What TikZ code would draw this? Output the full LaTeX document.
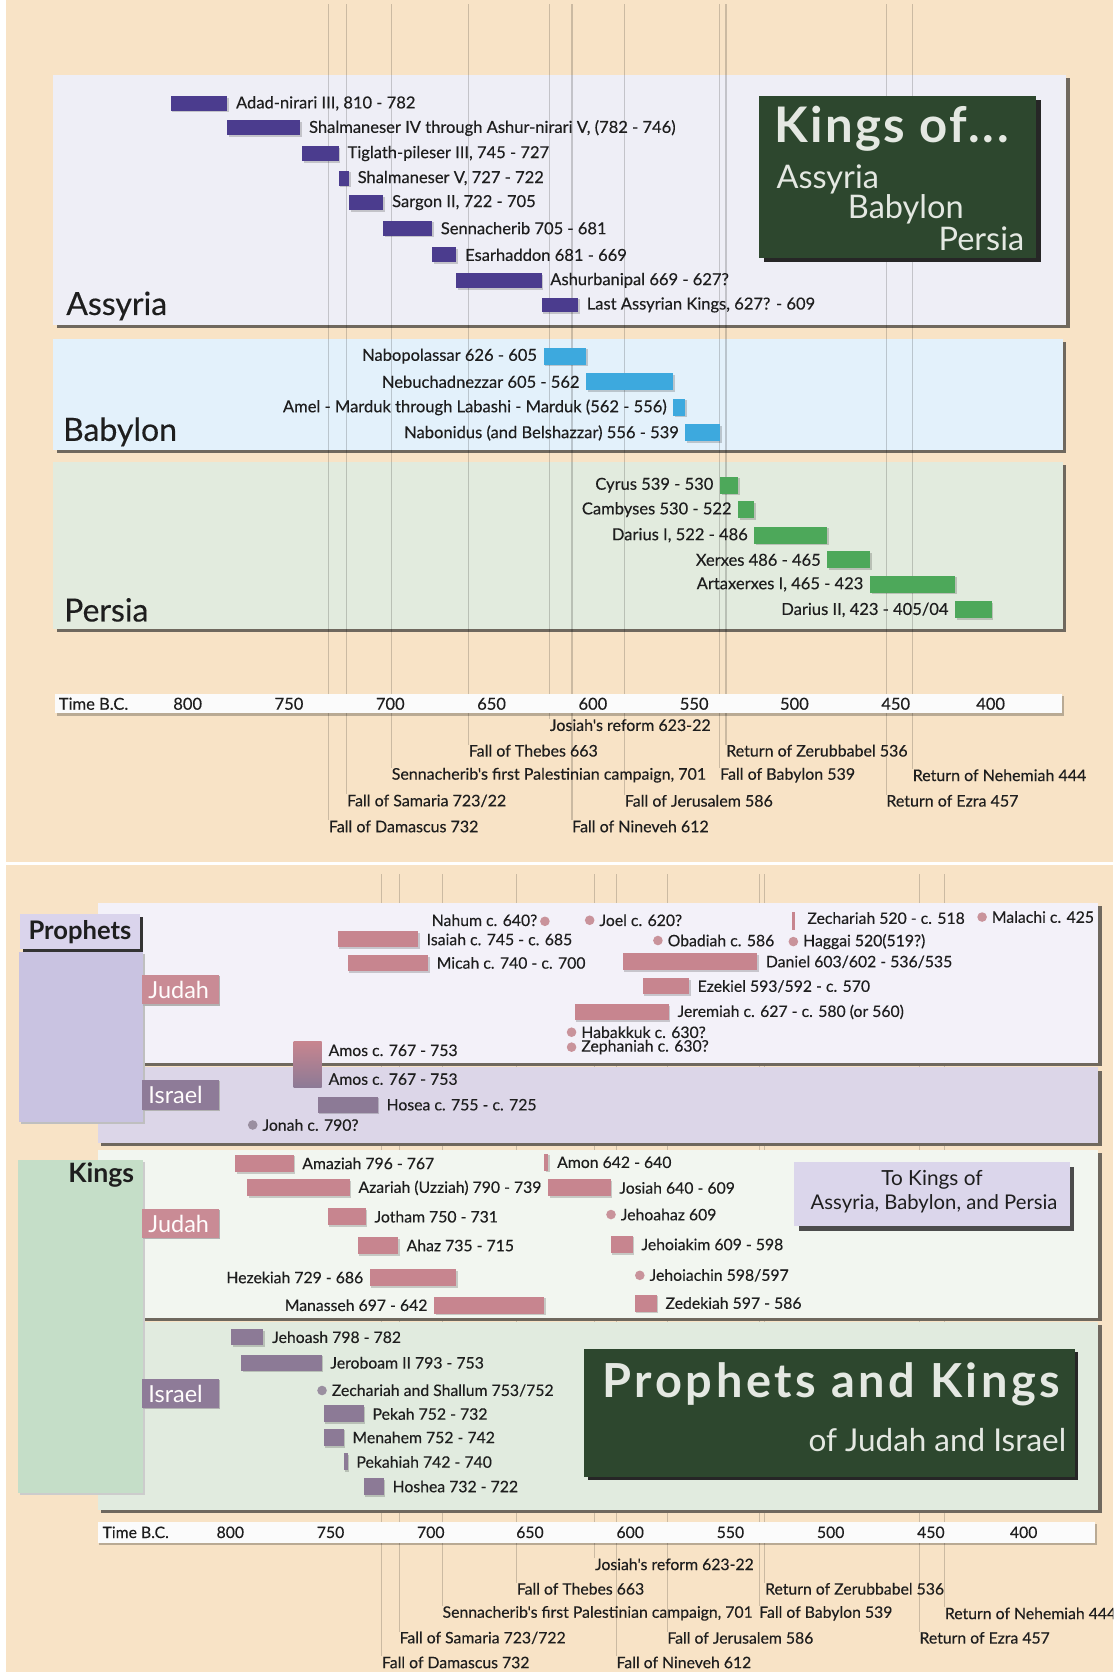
\documentclass[tikz,border=0pt]{standalone}
\usepackage{fontspec}
\setmainfont{Lato}
\newfontfamily\labfont{Lato}[FakeBold=0.3]
\newfontfamily\trackfont{Lato}[LetterSpace=5]
\newfontfamily\trackfontb{Lato}[LetterSpace=7.6]
\pgfdeclarelayer{L0}
\pgfdeclarelayer{L1}
\pgfsetlayers{L0,L1,main}
\pgfmathdeclarefunction{topx}{1}{\pgfmathparse{1699.8-1.901*#1}}
\pgfmathdeclarefunction{botx}{1}{\pgfmathparse{1718.8-1.882*#1}}
\pgfmathdeclarefunction{evx}{1}{\pgfmathparse{1699.8-1.833*#1}}
\definecolor{beige}{HTML}{F8E3C6}
\definecolor{assyfill}{HTML}{EEEEF6}
\definecolor{babfill}{HTML}{E3F1FB}
\definecolor{perfill}{HTML}{E2EBDE}
\definecolor{boxshadow}{HTML}{6F685E}
\definecolor{purp}{HTML}{4B3C8E}
\definecolor{blu}{HTML}{3DA9DE}
\definecolor{grn}{HTML}{4DA85A}
\definecolor{jpink}{HTML}{C7858F}
\definecolor{jdot}{HTML}{C9939B}
\definecolor{ipurp}{HTML}{8C7A96}
\definecolor{idot}{HTML}{9A8FA0}
\definecolor{tagp}{HTML}{C98B95}
\definecolor{tagi}{HTML}{8E7B98}
\definecolor{dgreen}{HTML}{2D472E}
\definecolor{ttl}{HTML}{E4E8E2}
\definecolor{pjud}{HTML}{F3F1F9}
\definecolor{pisr}{HTML}{DCD6E8}
\definecolor{kjud}{HTML}{F2F6F0}
\definecolor{kisr}{HTML}{E1EBDF}
\definecolor{ptab}{HTML}{C9C3E1}
\definecolor{phead}{HTML}{DAD4EC}
\definecolor{ktab}{HTML}{C5DEC8}
\definecolor{tokings}{HTML}{DBD6EB}
\definecolor{txt}{HTML}{1E1E1E}
\definecolor{axisw}{HTML}{FBFBFB}
\tikzset{
  lab/.style={font=\labfont\fontsize{15.5}{17}\selectfont, text=txt, inner sep=0pt},
  tev/.style={font=\labfont\fontsize{15}{17}\selectfont, text=txt, inner sep=0pt},
  blab/.style={font=\labfont\fontsize{14.8}{16}\selectfont, text=txt, inner sep=0pt},
  rl/.style={lab},
  big/.style={font=\labfont\fontsize{30}{32}\selectfont, text=txt, inner sep=0pt},
  tagt/.style={font=\fontsize{22}{24}\selectfont, text=white!95!pink, inner sep=0pt},
  ttltxt/.style={text=ttl, inner sep=0pt},
  evline/.style={draw=black, opacity=.18, line width=1pt}
}
\newcommand\shbox[7]{\fill[#2] ({#3+#7},{#4+#7}) rectangle ({#5+#7},{#6+#7});
  \fill[#1] (#3,#4) rectangle (#5,#6);}
\newcommand\hbarx[5]{\fill[black,opacity=.18] ({#2+1.5},{#4-#5+1.5}) rectangle ({#3+1.5},{#4+#5+1.5});
  \fill[#1] ({#2},{#4-#5}) rectangle ({#3},{#4+#5});}
\newcommand\rowR[7]{\hbarx{#2}{#5}{#6}{#3}{#4}\node[rl,anchor=west] (#1) at ({#6+8},#3) {#7};}
\newcommand\rowL[7]{\hbarx{#2}{#5}{#6}{#3}{#4}\node[rl,anchor=east] (#1) at ({#5-6},#3) {#7};}
\newcommand\dotR[5]{\fill[#2] (#3,#4) circle[radius=4.5pt];
  \node[rl,anchor=west] (#1) at ({#3+9},#4) {#5};}
\begin{document}
\begin{tikzpicture}[x=1pt,y=-1pt]
\useasboundingbox (0,0) rectangle (1044,1568);
\clip (0,0) rectangle (1044,1568);
% ---------- backgrounds, top boxes
\begin{pgfonlayer}{L0}
\fill[white] (0,0) rectangle (1044,1568);
\fill[beige] (6,0) rectangle (1044,808);
\fill[beige] (6,811) rectangle (1044,1568);
\shbox{assyfill}{boxshadow}{50}{70}{1000}{305}{3}
\shbox{babfill}{boxshadow}{50}{318}{997}{422}{3}
\shbox{perfill}{boxshadow}{50}{433}{997}{590}{3}
\end{pgfonlayer}
\coordinate (ttop) at (0,4);
\coordinate (btop) at (0,820);
% ---------- top axis
\fill[black,opacity=.25] (53,653) rectangle (998,671);
\fill[axisw] (52,651) rectangle (996,669);
\node[lab,anchor=west] (ttime) at (55,660) {Time B.C.};
\foreach \v/\p in {800/176,750/271,700/366,650/461,600/556,550/651,500/745,450/840,400/929}
  \node[lab] (tk\v) at (\p,660) {\v};
% ---------- top events
\node[tev,anchor=west] (te1) at ({topx(623)},680) {Josiah's reform 623-22};
\node[tev,anchor=west] (te2) at ({topx(663)},704) {Fall of Thebes 663};
\node[tev,anchor=west] (te3) at ({topx(536)},704) {Return of Zerubbabel 536};
\node[tev,anchor=west] (te4) at ({topx(701)},727) {Sennacherib's first Palestinian campaign, 701};
\node[tev,anchor=west] (te5) at ({topx(539)},727) {Fall of Babylon 539};
\node[tev,anchor=west] (te6) at ({topx(444)},727) {Return of Nehemiah 444};
\node[tev,anchor=west] (te7) at ({topx(723)},751) {Fall of Samaria 723/22};
\node[tev,anchor=west] (te8) at ({topx(586)},751) {Fall of Jerusalem 586};
\node[tev,anchor=west] (te9) at ({topx(457)},751) {Return of Ezra 457};
\node[tev,anchor=west] (te10) at ({topx(732)},775) {Fall of Damascus 732};
\node[tev,anchor=west] (te11) at ({topx(612)},775) {Fall of Nineveh 612};
\begin{pgfonlayer}{L1}
\foreach \i in {1,...,11} \draw[evline] (te\i.north west) -- (te\i.north west |- ttop);
\end{pgfonlayer}
% ---------- title box
\shbox{dgreen}{black!85}{712}{90}{972}{242}{4}
\node[ttltxt,anchor=west,font=\trackfont\bfseries\fontsize{46}{48}\selectfont] (kt) at (726,121) {Kings of...};
\node[ttltxt,anchor=west,font=\fontsize{30.5}{32}\selectfont] (kt1) at (728,168) {Assyria};
\node[ttltxt,anchor=west,font=\fontsize{30.5}{32}\selectfont] (kt2) at (795,196) {Babylon};
\node[ttltxt,anchor=west,font=\fontsize{30.5}{32}\selectfont] (kt3) at (880,224) {Persia};
\node[big,anchor=west] (lassy) at (62,287) {Assyria};
\node[big,anchor=west] (lbab) at (59,405) {Babylon};
\node[big,anchor=west] (lper) at (60,572) {Persia};
% ---------- Assyria
\rowR{a1}{purp}{97}{7}{topx(810)}{topx(782)}{Adad-nirari III, 810 - 782}
\rowR{a2}{purp}{120}{7}{topx(782)}{topx(746)}{Shalmaneser IV through Ashur-nirari V, (782 - 746)}
\rowR{a3}{purp}{144}{7}{topx(745)}{topx(727)}{Tiglath-pileser III, 745 - 727}
\rowR{a4}{purp}{167}{7}{topx(727)}{topx(722)}{Shalmaneser V, 727 - 722}
\rowR{a5}{purp}{190}{7}{topx(722)}{topx(705)}{Sargon II, 722 - 705}
\rowR{a6}{purp}{214}{7}{topx(705)}{topx(681)}{Sennacherib 705 - 681}
\rowR{a7}{purp}{239}{7}{topx(681)}{topx(669)}{Esarhaddon 681 - 669}
\rowR{a8}{purp}{263}{7}{topx(669)}{topx(627)}{Ashurbanipal 669 - 627?}
\rowR{a9}{purp}{286}{7}{topx(627)}{topx(609)}{Last Assyrian Kings, 627? - 609}
% ---------- Babylon
\rowL{b1}{blu}{334}{8}{topx(626)}{topx(605)}{Nabopolassar 626 - 605}
\rowL{b2}{blu}{358}{8}{topx(605)}{topx(562)}{Nebuchadnezzar 605 - 562}
\rowL{b3}{blu}{382}{8}{topx(562)}{topx(556)}{Amel - Marduk through Labashi - Marduk (562 - 556)}
\rowL{b4}{blu}{406}{8}{topx(556)}{topx(539)}{Nabonidus (and Belshazzar) 556 - 539}
% ---------- Persia
\rowL{p1}{grn}{455}{8}{topx(539)}{topx(530)}{Cyrus 539 - 530}
\rowL{p2}{grn}{478}{8}{topx(530)}{topx(522)}{Cambyses 530 - 522}
\rowL{p3}{grn}{502}{8}{topx(522)}{topx(486)}{Darius I, 522 - 486}
\rowL{p4}{grn}{525}{8}{topx(486)}{topx(465)}{Xerxes 486 - 465}
\rowL{p5}{grn}{548}{8}{topx(465)}{topx(423)}{Artaxerxes I, 465 - 423}
\rowL{p6}{grn}{572}{8}{topx(423)}{topx(405)}{Darius II, 423 - 405/04}
% ========== BOTTOM PANEL
\tikzset{rl/.style={blab}}
\node[blab,anchor=west] (be1) at ({evx(623)},1467) {Josiah's reform 623-22};
\node[blab,anchor=west] (be2) at ({evx(663)},1490) {Fall of Thebes 663};
\node[blab,anchor=west] (be3) at ({evx(536)},1490) {Return of Zerubbabel 536};
\node[blab,anchor=west] (be4) at ({evx(701)},1513) {Sennacherib's first Palestinian campaign, 701};
\node[blab,anchor=west] (be5) at ({evx(539)},1513) {Fall of Babylon 539};
\node[blab,anchor=west] (be6) at ({evx(444)},1513) {Return of Nehemiah 444};
\node[blab,anchor=west] (be7) at ({evx(723)},1536) {Fall of Samaria 723/722};
\node[blab,anchor=west] (be8) at ({evx(586)},1536) {Fall of Jerusalem 586};
\node[blab,anchor=west] (be9) at ({evx(457)},1536) {Return of Ezra 457};
\node[blab,anchor=west] (be10) at ({evx(732)},1559) {Fall of Damascus 732};
\node[blab,anchor=west] (be11) at ({evx(612)},1559) {Fall of Nineveh 612};
\begin{pgfonlayer}{L0}
\foreach \i in {1,...,11} \draw[evline] (be\i.north west) -- (be\i.north west |- btop);
\shbox{pjud}{boxshadow}{92}{847}{1030}{997}{3}
\shbox{pisr}{boxshadow}{92}{1001}{1030}{1072}{3}
\shbox{kjud}{boxshadow}{92}{1078}{1030}{1236}{3}
\shbox{kisr}{boxshadow}{92}{1240}{1030}{1416}{3}
\shbox{ptab}{black!25}{18}{893}{134}{1052}{2}
\shbox{phead}{black!80}{19}{857}{131}{890}{3}
\shbox{ktab}{black!20}{17}{1088}{134}{1400}{2}
\shbox{tagp}{black!30}{133}{914}{205}{942}{1}
\shbox{tagi}{black!30}{133}{1013}{205}{1041}{1}
\shbox{tagp}{black!30}{133}{1134}{205}{1161}{1}
\shbox{tagi}{black!30}{133}{1293}{205}{1320}{1}
\end{pgfonlayer}
\node[blab,font=\bfseries\fontsize{24}{26}\selectfont] (phd) at (75,874) {Prophets};
\node[blab,font=\bfseries\fontsize{25}{27}\selectfont,anchor=east] (khd) at (126,1102) {Kings};
\node[tagt,anchor=west] (tpj) at (139,928) {Judah};
\node[tagt,anchor=west] (tpi) at (139,1027) {Israel};
\node[tagt,anchor=west] (tkj) at (139,1148) {Judah};
\node[tagt,anchor=west] (tki) at (139,1307) {Israel};
% bottom axis
\fill[black,opacity=.25] (93,1429) rectangle (1029,1449);
\fill[axisw] (92,1427) rectangle (1027,1447);
\node[blab,anchor=west] (btime) at (96,1437) {Time B.C.};
\foreach \v/\p in {800/216,750/310,700/404,650/497,600/591,550/685,500/779,450/873,400/960}
  \node[blab] (bk\v) at (\p,1437) {\v};
% boxes with text
\shbox{tokings}{black!70}{745}{1090}{1003}{1150}{4}
\node[blab,font=\fontsize{19.5}{21}\selectfont] (tk1) at (874,1106) {To Kings of};
\node[blab,font=\fontsize{19}{21}\selectfont] (tk2) at (876,1129) {Assyria, Babylon, and Persia};
\shbox{dgreen}{black!85}{548}{1265}{1008}{1385}{3}
\node[ttltxt,anchor=west,font=\trackfontb\bfseries\fontsize{44}{46}\selectfont] (pk1) at (565,1298) {Prophets and Kings};
\node[ttltxt,anchor=east,font=\fontsize{29.5}{31}\selectfont] (pk2) at (1000,1350) {of Judah and Israel};
% ---------- prophets
\fill[jdot] (511,864) circle[radius=4.5pt];
\node[blab,anchor=east] (nah) at (504,863) {Nahum c. 640?};
\dotR{joel}{jdot}{553}{863}{Joel c. 620?}
\fill[jpink] (743,855) rectangle (746,872);
\node[blab,anchor=west] (zec) at (757,861) {Zechariah 520 - c. 518};
\dotR{mal}{jdot}{921}{860}{Malachi c. 425}
\rowR{isa}{jpink}{881}{7.5}{botx(745)}{392}{Isaiah c. 745 - c. 685}
\rowR{mic}{jpink}{903}{7.5}{botx(740)}{botx(700)}{Micah c. 740 - c. 700}
\dotR{oba}{jdot}{617}{882}{Obadiah c. 586}
\dotR{hag}{jdot}{744}{883}{Haggai 520(519?)}
\rowR{dan}{jpink}{902}{8}{botx(603)}{botx(536)}{Daniel 603/602 - 536/535}
\rowR{eze}{jpink}{925}{7.5}{botx(593)}{botx(570)}{Ezekiel 593/592 - c. 570}
\rowR{jer}{jpink}{949}{7.5}{botx(627)}{botx(580)}{Jeremiah c. 627 - c. 580 (or 560)}
\dotR{hab}{jdot}{536}{968}{Habakkuk c. 630?}
\dotR{zep}{jdot}{536}{982}{Zephaniah c. 630?}
\shade[top color=jpink, bottom color=ipurp] ({botx(767)},977) rectangle ({botx(753)},1020);
\node[blab,anchor=west] (amj) at (308,985) {Amos c. 767 - 753};
\node[blab,anchor=west] (ami) at (308,1012) {Amos c. 767 - 753};
\rowR{hos}{ipurp}{1036}{7.5}{botx(755)}{botx(725)}{Hosea c. 755 - c. 725}
\dotR{jon}{idot}{237}{1055}{Jonah c. 790?}
% ---------- kings of Judah
\rowR{ama}{jpink}{1091}{8}{botx(796)}{botx(767)}{Amaziah 796 - 767}
\rowR{aza}{jpink}{1114}{8}{botx(790)}{botx(739)}{Azariah (Uzziah) 790 - 739}
\rowR{jot}{jpink}{1141}{8}{botx(750)}{botx(731)}{Jotham 750 - 731}
\rowR{aha}{jpink}{1168}{8}{botx(735)}{botx(715)}{Ahaz 735 - 715}
\rowL{hez}{jpink}{1198}{8}{botx(729)}{botx(686)}{Hezekiah 729 - 686}
\rowL{man}{jpink}{1224}{8}{botx(697)}{botx(642)}{Manasseh 697 - 642}
\rowR{amo}{jpink}{1090}{8}{botx(642)}{botx(640)}{Amon 642 - 640}
\rowR{jos}{jpink}{1114}{8}{botx(640)}{botx(609)}{Josiah 640 - 609}
\dotR{jhz}{jdot}{573}{1139}{Jehoahaz 609}
\rowR{jkm}{jpink}{1167}{8}{botx(609)}{botx(598)}{Jehoiakim 609 - 598}
\dotR{jhn}{jdot}{600}{1196}{Jehoiachin 598/597}
\rowR{zed}{jpink}{1222}{8}{botx(597)}{botx(586)}{Zedekiah 597 - 586}
% ---------- kings of Israel
\rowR{jhs}{ipurp}{1254}{7.5}{botx(798)}{botx(782)}{Jehoash 798 - 782}
\rowR{jrb}{ipurp}{1278}{7.5}{botx(793)}{botx(753)}{Jeroboam II 793 - 753}
\dotR{zsh}{idot}{302}{1304}{Zechariah and Shallum 753/752}
\rowR{pek}{ipurp}{1326}{8}{botx(752)}{botx(732)}{Pekah 752 - 732}
\rowR{men}{ipurp}{1348}{8}{botx(752)}{botx(742)}{Menahem 752 - 742}
\rowR{pkh}{ipurp}{1371}{8}{botx(742)}{botx(740)}{Pekahiah 742 - 740}
\rowR{hsh}{ipurp}{1394}{8}{botx(732)}{botx(722)}{Hoshea 732 - 722}
\end{tikzpicture}
\end{document}
